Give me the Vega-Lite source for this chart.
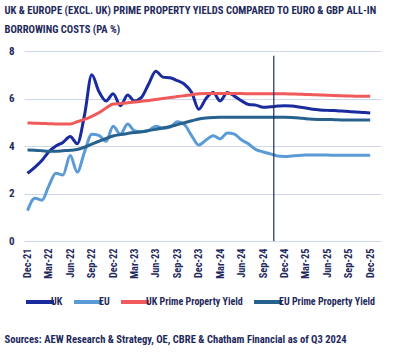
{
  "$schema": "https://vega.github.io/schema/vega-lite/v6.json",
  "background": "white",
  "padding": {"left": 4, "top": 6, "right": 4, "bottom": 4},
  "config": {
    "font": "Roboto Condensed, Roboto, sans-serif",
    "view": {"stroke": null}
  },
  "title": {
    "text": ["UK & EUROPE (EXCL. UK) PRIME PROPERTY YIELDS COMPARED TO EURO & GBP ALL-IN", "BORROWING COSTS (PA %)"],
    "anchor": "start",
    "frame": "bounds",
    "fontSize": 10.6,
    "fontWeight": "bold",
    "color": "#1f2a5c",
    "lineHeight": 19,
    "offset": 9
  },
  "resolve": {"scale": {"color": "independent"}, "legend": {"color": "independent"}},
  "vconcat": [
    {
      "width": 357,
      "height": 190,
      "title": {
        "text": "Sources: AEW Research & Strategy, OE, CBRE & Chatham Financial as of Q3 2024",
        "orient": "bottom",
        "anchor": "start",
        "frame": "bounds",
        "fontSize": 10.6,
        "fontWeight": "bold",
        "color": "#1f2a5c",
        "offset": 25,
        "dx": -4
      },
      "encoding": {
        "x": {
          "field": "d",
          "type": "temporal",
          "scale": {"type": "utc", "domain": [{"year": 2021, "month": 11, "date": 16, "utc": true}, {"year": 2026, "month": 1, "date": 16, "utc": true}]},
          "axis": {
            "title": null,
            "format": "%b-%y",
            "values": [
              {"year": 2021, "month": 12, "date": 1, "utc": true},
              {"year": 2022, "month": 3, "date": 1, "utc": true},
              {"year": 2022, "month": 6, "date": 1, "utc": true},
              {"year": 2022, "month": 9, "date": 1, "utc": true},
              {"year": 2022, "month": 12, "date": 1, "utc": true},
              {"year": 2023, "month": 3, "date": 1, "utc": true},
              {"year": 2023, "month": 6, "date": 1, "utc": true},
              {"year": 2023, "month": 9, "date": 1, "utc": true},
              {"year": 2023, "month": 12, "date": 1, "utc": true},
              {"year": 2024, "month": 3, "date": 1, "utc": true},
              {"year": 2024, "month": 6, "date": 1, "utc": true},
              {"year": 2024, "month": 9, "date": 1, "utc": true},
              {"year": 2024, "month": 12, "date": 1, "utc": true},
              {"year": 2025, "month": 3, "date": 1, "utc": true},
              {"year": 2025, "month": 6, "date": 1, "utc": true},
              {"year": 2025, "month": 9, "date": 1, "utc": true},
              {"year": 2025, "month": 12, "date": 1, "utc": true}
            ],
            "labelAngle": -90,
            "labelAlign": "right",
            "labelBaseline": "middle",
            "labelFontSize": 10.3,
            "labelFontWeight": "bold",
            "labelColor": "#1f2a5c",
            "labelPadding": 7,
            "labelOverlap": false,
            "labelFlush": false,
            "ticks": false,
            "domain": false,
            "grid": false
          }
        }
      },
      "layer": [
        {
          "data": {
            "values": [
              {"d": "2021-12-01", "UK": 2.85, "EU": 1.28, "UK Prime Property Yield": 4.97, "EU Prime Property Yield": 3.83},
              {"d": "2022-01-01", "UK": 3.1, "EU": 1.8, "UK Prime Property Yield": 4.96, "EU Prime Property Yield": 3.82},
              {"d": "2022-02-01", "UK": 3.4, "EU": 1.72, "UK Prime Property Yield": 4.95, "EU Prime Property Yield": 3.8},
              {"d": "2022-03-01", "UK": 3.75, "EU": 2.3, "UK Prime Property Yield": 4.94, "EU Prime Property Yield": 3.78},
              {"d": "2022-04-01", "UK": 4.0, "EU": 2.85, "UK Prime Property Yield": 4.93, "EU Prime Property Yield": 3.78},
              {"d": "2022-05-01", "UK": 4.15, "EU": 2.78, "UK Prime Property Yield": 4.93, "EU Prime Property Yield": 3.8},
              {"d": "2022-06-01", "UK": 4.4, "EU": 3.6, "UK Prime Property Yield": 4.93, "EU Prime Property Yield": 3.82},
              {"d": "2022-07-01", "UK": 4.1, "EU": 2.9, "UK Prime Property Yield": 5.02, "EU Prime Property Yield": 3.85},
              {"d": "2022-08-01", "UK": 5.3, "EU": 3.75, "UK Prime Property Yield": 5.12, "EU Prime Property Yield": 3.95},
              {"d": "2022-09-01", "UK": 7.0, "EU": 4.5, "UK Prime Property Yield": 5.25, "EU Prime Property Yield": 4.08},
              {"d": "2022-10-01", "UK": 6.3, "EU": 4.45, "UK Prime Property Yield": 5.4, "EU Prime Property Yield": 4.2},
              {"d": "2022-11-01", "UK": 5.9, "EU": 4.2, "UK Prime Property Yield": 5.6, "EU Prime Property Yield": 4.32},
              {"d": "2022-12-01", "UK": 6.2, "EU": 4.83, "UK Prime Property Yield": 5.77, "EU Prime Property Yield": 4.42},
              {"d": "2023-01-01", "UK": 5.7, "EU": 4.5, "UK Prime Property Yield": 5.79, "EU Prime Property Yield": 4.48},
              {"d": "2023-02-01", "UK": 6.15, "EU": 4.93, "UK Prime Property Yield": 5.82, "EU Prime Property Yield": 4.53},
              {"d": "2023-03-01", "UK": 5.9, "EU": 4.65, "UK Prime Property Yield": 5.85, "EU Prime Property Yield": 4.57},
              {"d": "2023-04-01", "UK": 6.05, "EU": 4.6, "UK Prime Property Yield": 5.88, "EU Prime Property Yield": 4.6},
              {"d": "2023-05-01", "UK": 6.6, "EU": 4.65, "UK Prime Property Yield": 5.92, "EU Prime Property Yield": 4.65},
              {"d": "2023-06-01", "UK": 7.15, "EU": 4.83, "UK Prime Property Yield": 5.96, "EU Prime Property Yield": 4.7},
              {"d": "2023-07-01", "UK": 6.9, "EU": 4.75, "UK Prime Property Yield": 6.0, "EU Prime Property Yield": 4.76},
              {"d": "2023-08-01", "UK": 6.87, "EU": 4.8, "UK Prime Property Yield": 6.04, "EU Prime Property Yield": 4.82},
              {"d": "2023-09-01", "UK": 6.75, "EU": 5.02, "UK Prime Property Yield": 6.08, "EU Prime Property Yield": 4.9},
              {"d": "2023-10-01", "UK": 6.6, "EU": 4.9, "UK Prime Property Yield": 6.12, "EU Prime Property Yield": 4.98},
              {"d": "2023-11-01", "UK": 6.25, "EU": 4.43, "UK Prime Property Yield": 6.16, "EU Prime Property Yield": 5.06},
              {"d": "2023-12-01", "UK": 5.55, "EU": 4.04, "UK Prime Property Yield": 6.2, "EU Prime Property Yield": 5.14},
              {"d": "2024-01-01", "UK": 6.0, "EU": 4.25, "UK Prime Property Yield": 6.21, "EU Prime Property Yield": 5.18},
              {"d": "2024-02-01", "UK": 6.25, "EU": 4.43, "UK Prime Property Yield": 6.21, "EU Prime Property Yield": 5.2},
              {"d": "2024-03-01", "UK": 5.9, "EU": 4.3, "UK Prime Property Yield": 6.21, "EU Prime Property Yield": 5.21},
              {"d": "2024-04-01", "UK": 6.25, "EU": 4.55, "UK Prime Property Yield": 6.21, "EU Prime Property Yield": 5.21},
              {"d": "2024-05-01", "UK": 6.1, "EU": 4.5, "UK Prime Property Yield": 6.21, "EU Prime Property Yield": 5.21},
              {"d": "2024-06-01", "UK": 5.9, "EU": 4.25, "UK Prime Property Yield": 6.21, "EU Prime Property Yield": 5.21},
              {"d": "2024-07-01", "UK": 5.75, "EU": 4.08, "UK Prime Property Yield": 6.2, "EU Prime Property Yield": 5.21},
              {"d": "2024-08-01", "UK": 5.72, "EU": 3.85, "UK Prime Property Yield": 6.2, "EU Prime Property Yield": 5.21},
              {"d": "2024-09-01", "UK": 5.63, "EU": 3.75, "UK Prime Property Yield": 6.2, "EU Prime Property Yield": 5.21},
              {"d": "2024-10-01", "UK": 5.65, "EU": 3.67, "UK Prime Property Yield": 6.2, "EU Prime Property Yield": 5.21},
              {"d": "2024-11-01", "UK": 5.68, "EU": 3.58, "UK Prime Property Yield": 6.2, "EU Prime Property Yield": 5.21},
              {"d": "2024-12-01", "UK": 5.7, "EU": 3.56, "UK Prime Property Yield": 6.2, "EU Prime Property Yield": 5.21},
              {"d": "2025-01-01", "UK": 5.68, "EU": 3.58, "UK Prime Property Yield": 6.19, "EU Prime Property Yield": 5.2},
              {"d": "2025-02-01", "UK": 5.64, "EU": 3.6, "UK Prime Property Yield": 6.18, "EU Prime Property Yield": 5.18},
              {"d": "2025-03-01", "UK": 5.6, "EU": 3.62, "UK Prime Property Yield": 6.17, "EU Prime Property Yield": 5.15},
              {"d": "2025-04-01", "UK": 5.55, "EU": 3.62, "UK Prime Property Yield": 6.16, "EU Prime Property Yield": 5.13},
              {"d": "2025-05-01", "UK": 5.52, "EU": 3.62, "UK Prime Property Yield": 6.15, "EU Prime Property Yield": 5.12},
              {"d": "2025-06-01", "UK": 5.5, "EU": 3.62, "UK Prime Property Yield": 6.14, "EU Prime Property Yield": 5.12},
              {"d": "2025-07-01", "UK": 5.49, "EU": 3.61, "UK Prime Property Yield": 6.13, "EU Prime Property Yield": 5.11},
              {"d": "2025-08-01", "UK": 5.47, "EU": 3.61, "UK Prime Property Yield": 6.12, "EU Prime Property Yield": 5.1},
              {"d": "2025-09-01", "UK": 5.45, "EU": 3.61, "UK Prime Property Yield": 6.11, "EU Prime Property Yield": 5.1},
              {"d": "2025-10-01", "UK": 5.43, "EU": 3.61, "UK Prime Property Yield": 6.1, "EU Prime Property Yield": 5.1},
              {"d": "2025-11-01", "UK": 5.41, "EU": 3.61, "UK Prime Property Yield": 6.1, "EU Prime Property Yield": 5.1},
              {"d": "2025-12-01", "UK": 5.39, "EU": 3.61, "UK Prime Property Yield": 6.09, "EU Prime Property Yield": 5.1}
            ]
          },
          "transform": [
            {"fold": ["UK", "EU", "UK Prime Property Yield", "EU Prime Property Yield"], "as": ["series", "value"]}
          ],
          "mark": {"type": "line", "strokeWidth": 3, "interpolate": "monotone"},
          "encoding": {
            "y": {
              "field": "value",
              "type": "quantitative",
              "scale": {"domain": [0, 8]},
              "axis": {
                "title": null,
                "values": [0, 1, 2, 3, 4, 5, 6, 7, 8],
                "labelFontSize": 11,
                "labelFontWeight": "bold",
                "labelColor": "#1f2a5c",
                "labelPadding": 10,
                "ticks": false,
                "domain": false,
                "grid": true,
                "gridColor": "#d0d6ef",
                "gridWidth": 1
              }
            },
            "color": {
              "field": "series",
              "type": "nominal",
              "sort": ["UK", "EU", "UK Prime Property Yield", "EU Prime Property Yield"],
              "scale": {
                "domain": ["UK", "EU", "UK Prime Property Yield", "EU Prime Property Yield"],
                "range": ["#1a2b9e", "#5b9bd5", "#f05a5a", "#27628f"]
              },
              "legend": {
                "title": null,
                "orient": "bottom",
                "direction": "horizontal",
                "gridAlign": "none",
                "symbolType": "stroke",
                "symbolSize": 784,
                "symbolStrokeWidth": 4,
                "labelFontSize": 10,
                "labelFontWeight": "bold",
                "labelColor": "#1f2a5c",
                "labelOffset": -5,
                "columnPadding": 3,
                "labelLimit": 200,
                "offset": 7
              }
            }
          }
        },
        {
          "data": {"values": [{"d": "2024-10-16", "top": 7.8, "bottom": 0}]},
          "mark": {"type": "rule", "color": "#1f2a5c", "strokeWidth": 1.2},
          "encoding": {
            "y": {"field": "top", "type": "quantitative"},
            "y2": {"field": "bottom"}
          }
        }
      ]
    }
  ]
}
